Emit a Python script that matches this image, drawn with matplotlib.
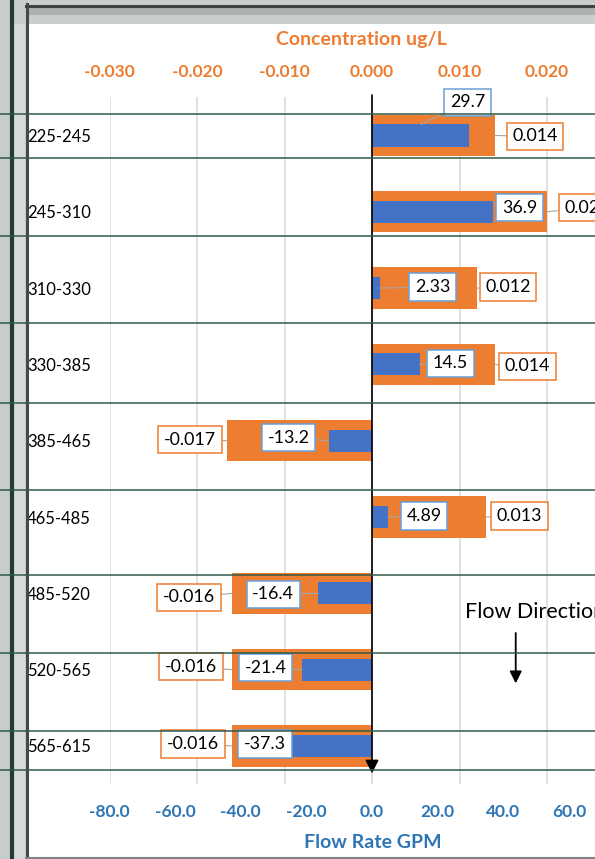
import numpy as np
import matplotlib.pyplot as plt
from matplotlib.patches import Rectangle
from matplotlib.lines import Line2D

plt.rcParams['font.family'] = ['Lato', 'DejaVu Sans']

# data
depths = ['225-245', '245-310', '310-330', '330-385', '385-465',
          '465-485', '485-520', '520-565', '565-615']
conc = [0.014, 0.020, 0.012, 0.014, -0.0166, 0.013, -0.016, -0.016, -0.016]
flow = [29.7, 36.9, 2.33, 14.5, -13.2, 4.89, -16.4, -21.4, -37.3]
conc_ticks = [-0.03, -0.02, -0.01, 0.0, 0.01, 0.02]
flow_ticks = [-80, -60, -40, -20, 0, 20, 40, 60]

# label offsets from bar end, screen pixels (x right, y down)
conc_off = [(40.5, 1), (40, -4), (31, -1), (33, 2), (-36.5, -1),
            (33.5, -1), (-43, 4), (-41, -3), (-39, -2)]
flow_off = [(47, -22), (26.5, -4), (53, -1), (31, -1), (-40, -3),
            (36, -1), (-45, 1), (-36, -2), (15.5, -2)]

ORANGE = '#ED7D31'
BLUE = '#4472C4'
DKBLUE = '#2E75B6'
LTBLUE = '#6A9FD6'
GREEN = '#2F5A48'

W, H = 595, 859
PT = 72 / 100  # points per pixel


def fx(px):
    return px / W


def fy(py):
    return 1 - py / H


fig = plt.figure(figsize=(W / 100, H / 100), dpi=100)
fig.patch.set_facecolor('white')

# plot area in pixels: x 109.5..634.5 (cropped on the right), y 97.3..784.1
ax_c = fig.add_axes([fx(109.5), fy(784.1), 525 / W, (784.1 - 97.3) / H])
ax_f = ax_c.twiny()

y = np.arange(len(depths))
ax_c.barh(y, conc, height=0.54, color=ORANGE, zorder=2)
ax_c.set_xlim(-0.03, 0.03)
ax_c.set_ylim(len(depths) - 0.5, -0.5)
ax_c.xaxis.tick_top()
ax_c.set_xticks(conc_ticks)
ax_c.set_xticklabels([f'{t:.3f}' for t in conc_ticks], color=ORANGE,
                     fontweight='bold', fontsize=12.5)
ax_c.tick_params(axis='x', length=0, pad=12.8)
ax_c.grid(axis='x', color='#D9D9D9', lw=1.1)
ax_c.set_axisbelow(True)
ax_c.set_yticks(y)
ax_c.set_yticklabels(depths, ha='left', fontsize=12, color='black')
ax_c.tick_params(axis='y', length=0, pad=(109.5 - 27) * PT)
for s in ax_c.spines.values():
    s.set_visible(False)

ax_f.barh(y, flow, height=0.29, color=BLUE, zorder=2)
ax_f.set_xlim(-80, 80)
ax_f.xaxis.tick_bottom()
ax_f.set_xticks(flow_ticks)
ax_f.set_xticklabels([f'{t:.1f}' for t in flow_ticks], color=DKBLUE,
                     fontweight='bold', fontsize=12.5)
ax_f.tick_params(axis='x', length=0, pad=14)
for s in ax_f.spines.values():
    s.set_visible(False)

# data labels
for i, v in enumerate(conc):
    dx, dy = conc_off[i]
    ax_c.annotate(f'{v:.3f}', xy=(v, i), xytext=(dx * PT, -dy * PT),
                  textcoords='offset points', ha='center', va='center',
                  fontsize=12.8, color='black', zorder=6,
                  bbox=dict(boxstyle='square,pad=0.32', fc='white',
                            ec=ORANGE, lw=1.1),
                  arrowprops=dict(arrowstyle='-', color='#A6A6A6', lw=0.8,
                                  shrinkA=0, shrinkB=0))

for i, v in enumerate(flow):
    dx, dy = flow_off[i]
    xy = (v, i)
    if i == 0:
        # first label sits above the bar, leader goes to the bar top
        xy = (v / 2, i - 0.145)
    props = None
    if abs(dx) > 28 or i == 0:
        props = dict(arrowstyle='-', color='#A6A6A6', lw=0.8,
                     shrinkA=0, shrinkB=0)
    ax_f.annotate(f'{v:g}', xy=xy, xytext=(dx * PT, -dy * PT),
                  textcoords='offset points', ha='center', va='center',
                  fontsize=12.8, color='black', zorder=6,
                  bbox=dict(boxstyle='square,pad=0.32', fc='white',
                            ec=LTBLUE, lw=1.1),
                  arrowprops=props)

# vertical arrow along zero
ax_f.annotate('', xy=(0, 8.36), xytext=(0, -0.53),
              arrowprops=dict(arrowstyle='-|>', color='black', lw=1.2,
                              mutation_scale=20, shrinkA=0, shrinkB=0),
              zorder=7, annotation_clip=False)

# flow direction note (runs past the cropped right edge, as in the source)
ax_f.text(28.3, 6.245, 'Flow Direction', fontsize=15.5, color='black',
          ha='left', va='center')
ax_f.annotate('', xy=(43.8, 7.18), xytext=(43.8, 6.52),
              arrowprops=dict(arrowstyle='-|>', color='black', lw=1.3,
                              mutation_scale=18, shrinkA=0, shrinkB=0))

# axis titles
fig.text(fx(361), fy(39), 'Concentration ug/L', color=ORANGE,
         fontweight='bold', fontsize=14, ha='center', va='center')
fig.text(fx(373), fy(842), 'Flow Rate GPM', color=DKBLUE,
         fontweight='bold', fontsize=14, ha='center', va='center')

# spreadsheet around the chart
fig.add_artist(Rectangle((0, fy(859)), fx(26), 1, transform=fig.transFigure,
                         fc='#C8CCCA', ec='none', zorder=3))
fig.add_artist(Rectangle((fx(14), fy(859)), fx(11), 1,
                         transform=fig.transFigure, fc='#D6DAD8', ec='none',
                         zorder=3))
fig.add_artist(Rectangle((0, fy(24)), 1, 24 / H, transform=fig.transFigure,
                         fc='#C9CDCB', ec='none', zorder=3))
fig.add_artist(Rectangle((fx(26), fy(15)), 1, 8 / H,
                         transform=fig.transFigure, fc='#AAB1AE', ec='none',
                         zorder=3))
fig.add_artist(Line2D([fx(12), fx(12)], [0, 1], transform=fig.transFigure,
                      color='#1F3D34', lw=3, zorder=5))
fig.add_artist(Line2D([fx(26.5), fx(26.5)], [0, fy(4)],
                      transform=fig.transFigure, color='#444A48', lw=2.2,
                      zorder=5))
fig.add_artist(Line2D([fx(26), 1], [fy(5.5), fy(5.5)],
                      transform=fig.transFigure, color='#3E4442', lw=2.2,
                      zorder=5))
fig.add_artist(Line2D([fx(26), 1], [fy(857.5), fy(857.5)],
                      transform=fig.transFigure, color='#7F8582', lw=1.5,
                      zorder=5))
for ry in [114, 158, 236, 323, 403, 490, 575, 653, 731, 770]:
    fig.add_artist(Line2D([0, 1], [fy(ry), fy(ry)], transform=fig.transFigure,
                          color=GREEN, lw=1.1, zorder=6))

fig.savefig('out.png', dpi=100)
